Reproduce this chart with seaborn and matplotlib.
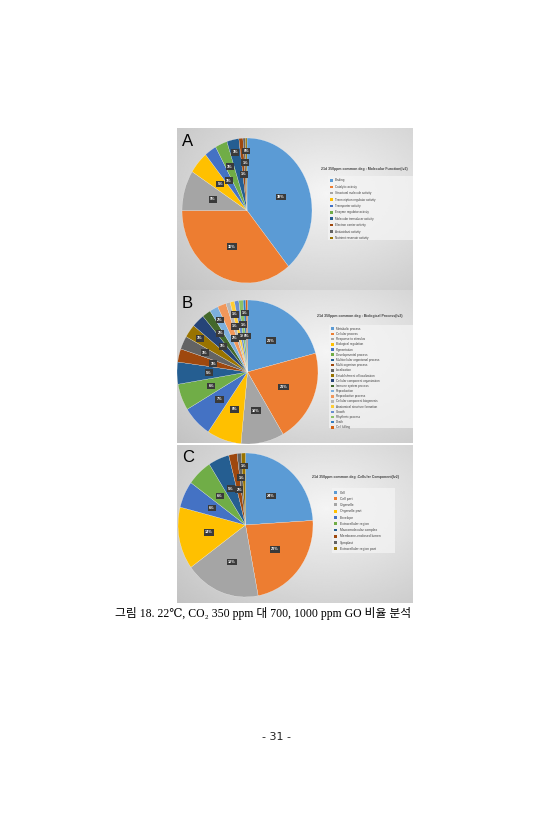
import numpy as np
import matplotlib
matplotlib.use("Agg")
import matplotlib.pyplot as plt
import matplotlib.patches as mpatches
import seaborn as sns

sns.set_style("white")
plt.rcParams['font.family'] = ['Liberation Sans', 'DejaVu Sans', 'Noto Sans CJK KR']

# ---------------- data ----------------
mf_labels = ["Binding", "Catalytic activity", "Structural molecule activity",
             "Transcription regulator activity", "Transporter activity",
             "Enzyme regulator activity", "Molecular transducer activity",
             "Electron carrier activity", "Antioxidant activity",
             "Nutrient reservoir activity"]
mf_values = [39, 36, 9, 5, 3, 3, 3, 1, 0.6, 0.4]

bp_labels = ["Metabolic process", "Cellular process", "Response to stimulus",
             "Biological regulation", "Pigmentation", "Developmental process",
             "Multicellular organismal process", "Multi-organism process",
             "Localization", "Establishment of localization",
             "Cellular component organization", "Immune system process",
             "Reproduction", "Reproductive process",
             "Cellular component biogenesis", "Anatomical structure formation",
             "Growth", "Rhythmic process", "Death", "Cell killing"]
bp_values = [21, 21, 10, 8, 7, 6, 5, 3, 3, 3, 3, 2, 2, 2, 1, 1, 1, 1, 0.6, 0.4]

cc_labels = ["Cell", "Cell part", "Organelle", "Organelle part", "Envelope",
             "Extracellular region", "Macromolecular complex",
             "Membrane-enclosed lumen", "Symplast", "Extracellular region part"]
cc_values = [24, 23, 18, 14, 6, 6, 5, 2, 1, 1]

titles = ["21d 350ppm common deg : Molecular Function(lv2)",
          "21d 350ppm common deg : Biological Process(lv2)",
          "21d 350ppm common deg :Cellular Component(lv2)"]
letters = ["A", "B", "C"]
caption = "그림 18. 22℃, CO₂ 350 ppm 대 700, 1000 ppm GO 비율 분석"
page_no = "- 31 -"

excel_colors = ["#5B9BD5", "#ED7D31", "#A5A5A5", "#FFC000", "#4472C4", "#70AD47",
                "#255E91", "#9E480E", "#636363", "#997300", "#264478", "#43682B",
                "#7CAFDD", "#F1975A", "#B7B7B7", "#FFCD33", "#698ED0", "#8CC168",
                "#327DC2", "#D26012"]
palette = sns.color_palette(excel_colors)

W, H = 555, 840
fig = plt.figure(figsize=(W / 100, H / 100), dpi=100)
fig.patch.set_facecolor("white")


def rect(x0, y0, x1, y1):
    return [x0 / W, 1 - y1 / H, (x1 - x0) / W, (y1 - y0) / H]


panels = [
    dict(box=(177, 128, 413, 290), pie=(182, 138, 312, 283), title=(364, 169),
         lbox=(328, 176, 413, 240), leg=(330, 178.5), fs=2.2, ls=0.78,
         vals=mf_values, labs=mf_labels),
    dict(box=(177, 290, 413, 443), pie=(177, 300, 318, 444), title=(360, 316),
         lbox=(329, 325, 413, 428), leg=(331, 326.8), fs=2.2, ls=0.39,
         vals=bp_values, labs=bp_labels),
    dict(box=(177, 445, 413, 603), pie=(178, 453, 313, 597), title=(355, 477),
         lbox=(332, 488, 395, 553), leg=(334, 490.5), fs=2.45, ls=0.67,
         vals=cc_values, labs=cc_labels),
]

yy, xx = np.mgrid[0:200, 0:300]
for i, p in enumerate(panels):
    x0, y0, x1, y1 = p["box"]
    bg = fig.add_axes(rect(x0, y0, x1, y1))
    d = np.sqrt(((xx - 190) / 260.0) ** 2 + ((yy - 80) / 180.0) ** 2)
    g = 0.96 - 0.2 * np.clip(d, 0, 1.2)
    bg.imshow(g, cmap="gray", vmin=0, vmax=1, aspect="auto",
              extent=(0, 1, 0, 1), interpolation="bilinear")
    bg.set_xlim(0, 1)
    bg.set_ylim(0, 1)
    bg.axis("off")

    # legend background box
    bx0, by0, bx1, by1 = p["lbox"]
    fig.patches.append(mpatches.Rectangle(
        (bx0 / W, 1 - by1 / H), (bx1 - bx0) / W, (by1 - by0) / H,
        transform=fig.transFigure, facecolor="#f4f4f4", edgecolor="none",
        alpha=0.75, zorder=1))

    # pie
    px0, py0, px1, py1 = p["pie"]
    ax = fig.add_axes(rect(px0, py0, px1, py1))
    vals = p["vals"]
    cols = palette[:len(vals)]
    wedges, _, autotexts = ax.pie(
        vals, colors=cols, startangle=90, counterclock=False,
        autopct=lambda v: f"{v:.0f}%", pctdistance=0.55,
        wedgeprops=dict(edgecolor="white", linewidth=0.15),
        textprops=dict(color="white", fontsize=2.7, fontweight="bold"))
    # stagger the labels of the thin slices so they do not pile up
    k = 0
    for w, t in zip(wedges, autotexts):
        if w.theta2 - w.theta1 < 12:
            ang = np.deg2rad((w.theta1 + w.theta2) / 2)
            r = [0.5, 0.66, 0.82][k % 3]
            t.set_position((r * np.cos(ang), r * np.sin(ang)))
            k += 1
        t.set_bbox(dict(boxstyle="square,pad=0.35", facecolor="#3a3a3a",
                        edgecolor="none"))
    ax.set_aspect("auto")
    ax.set_xlim(-1, 1)
    ax.set_ylim(-1, 1)
    ax.axis("off")

    fig.text((x0 + 5) / W, 1 - (y0 + 13) / H, letters[i], fontsize=12,
             ha="left", va="center", color="black",
             family=["Liberation Sans"])

    tx, ty = p["title"]
    fig.text(tx / W, 1 - ty / H, titles[i], fontsize=2.55, fontweight="bold",
             ha="center", va="center", color="#404040")

    handles = [mpatches.Patch(facecolor=c, edgecolor="none") for c in cols]
    lx, ly = p["leg"]
    leg = fig.legend(handles, p["labs"], loc="upper left",
                     bbox_to_anchor=(lx / W, 1 - ly / H),
                     fontsize=p["fs"], labelspacing=p["ls"], handlelength=0.9,
                     handleheight=0.9, handletextpad=0.8, borderpad=0.0,
                     borderaxespad=0.0, frameon=False)
    for t in leg.get_texts():
        t.set_color("#404040")

fig.text(263 / W, 1 - 613 / H, caption, fontsize=8.5, ha="center", va="center",
         family=["Liberation Serif", "DejaVu Serif", "Noto Sans CJK KR"],
         color="black")
fig.text(277 / W, 1 - 737 / H, page_no, fontsize=8, ha="center", va="center",
         family=["DejaVu Sans"], color="#222222")

fig.savefig("out.png", dpi=100, facecolor="white")
